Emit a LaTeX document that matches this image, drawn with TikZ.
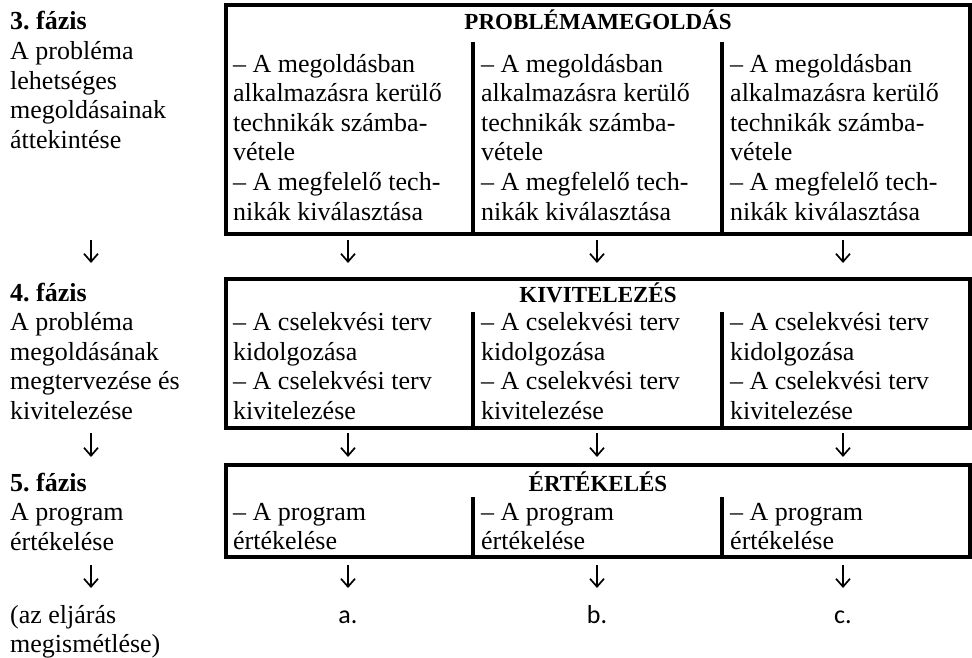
\documentclass[tikz,border=0pt]{standalone}
\usepackage{fontspec}
\setmainfont{Liberation Serif}
\newfontfamily\betu{Carlito}
\usetikzlibrary{arrows.meta}
\frenchspacing

\begin{document}
\begin{tikzpicture}[x=1pt,y=-1pt]
\tikzstyle{every node}+=[inner sep=0pt]
\tikzstyle{szoveg}=[anchor=base west,align=left,font=\fontsize{26}{29.6}\selectfont]
\tikzstyle{cim}=[anchor=base,font=\fontsize{23}{28}\selectfont\bfseries]
\tikzstyle{jel}=[anchor=base,font=\betu\fontsize{26}{30}\selectfont]
\tikzstyle{keret}=[line width=3.8pt]
\tikzstyle{nyil}=[line width=1.7pt,-{Straight Barb[length=8pt,width=14pt]}]
\useasboundingbox (0,0) rectangle (972,658);
\draw [keret] (226,5) rectangle (970,234);
\draw [keret] (473,42) -- (473,234);
\draw [keret] (722,42) -- (722,234);
\node [cim] (pm) at (598,30) {PROBLÉMAMEGOLDÁS};
\node [szoveg] (f3) at (10,148.4) {\textbf{3. fázis}\\A probléma\\lehetséges\\megoldásainak\\áttekintése};
\node [szoveg] (pm1) at (233,220) {– A megoldásban\\alkalmazásra kerülő\\technikák számba-\\vétele\\– A megfelelő tech-\\nikák kiválasztása};
\node [szoveg] (pm2) at (481,220) {– A megoldásban\\alkalmazásra kerülő\\technikák számba-\\vétele\\– A megfelelő tech-\\nikák kiválasztása};
\node [szoveg] (pm3) at (730,220) {– A megoldásban\\alkalmazásra kerülő\\technikák számba-\\vétele\\– A megfelelő tech-\\nikák kiválasztása};
\coordinate (l1) at (91,240); \coordinate (l2) at (91,263);
\coordinate (a1) at (348,240); \coordinate (a2) at (348,263);
\coordinate (b1) at (597,240); \coordinate (b2) at (597,263);
\coordinate (c1) at (843,240); \coordinate (c2) at (843,263);
\draw [nyil] (l1) -- (l2);
\draw [nyil] (a1) -- (a2);
\draw [nyil] (b1) -- (b2);
\draw [nyil] (c1) -- (c2);
\draw [keret] (226,279) rectangle (970,428);
\draw [keret] (473,312) -- (473,428);
\draw [keret] (722,312) -- (722,428);
\node [cim] (ki) at (598,302) {KIVITELEZÉS};
\node [szoveg] (f4) at (10,419.4) {\textbf{4. fázis}\\A probléma\\megoldásának\\megtervezése és\\kivitelezése};
\node [szoveg] (ki1) at (233,419.3) {– A cselekvési terv\\kidolgozása\\– A cselekvési terv\\kivitelezése};
\node [szoveg] (ki2) at (481,419.3) {– A cselekvési terv\\kidolgozása\\– A cselekvési terv\\kivitelezése};
\node [szoveg] (ki3) at (730,419.3) {– A cselekvési terv\\kidolgozása\\– A cselekvési terv\\kivitelezése};
\coordinate (l3) at (91,433); \coordinate (l4) at (91,457);
\coordinate (a3) at (348,433); \coordinate (a4) at (348,457);
\coordinate (b3) at (597,433); \coordinate (b4) at (597,457);
\coordinate (c3) at (843,433); \coordinate (c4) at (843,457);
\draw [nyil] (l3) -- (l4);
\draw [nyil] (a3) -- (a4);
\draw [nyil] (b3) -- (b4);
\draw [nyil] (c3) -- (c4);
\draw [keret] (226,465) rectangle (970,557);
\draw [keret] (473,497) -- (473,557);
\draw [keret] (722,497) -- (722,557);
\node [cim] (ert) at (598,491) {ÉRTÉKELÉS};
\node [szoveg] (f5) at (10,550.2) {\textbf{5. fázis}\\A program\\értékelése};
\node [szoveg] (ert1) at (233,549.6) {– A program\\értékelése};
\node [szoveg] (ert2) at (481,549.6) {– A program\\értékelése};
\node [szoveg] (ert3) at (730,549.6) {– A program\\értékelése};
\coordinate (l5) at (91,565); \coordinate (l6) at (91,588);
\coordinate (a5) at (348,565);
\coordinate (b5) at (597,565);
\coordinate (c5) at (843,565);
\node [szoveg] (ism) at (10,652.6) {(az eljárás\\megismétlése)};
\node [jel] (va) at (348,623) {a.};
\node [jel] (vb) at (597,623) {b.};
\node [jel] (vc) at (843,623) {c.};
\draw [nyil] (l5) -- (l6);
\draw [nyil] (a5) -- ([yshift=35pt]va.base);
\draw [nyil] (b5) -- ([yshift=35pt]vb.base);
\draw [nyil] (c5) -- ([yshift=35pt]vc.base);
\end{tikzpicture}
\end{document}
